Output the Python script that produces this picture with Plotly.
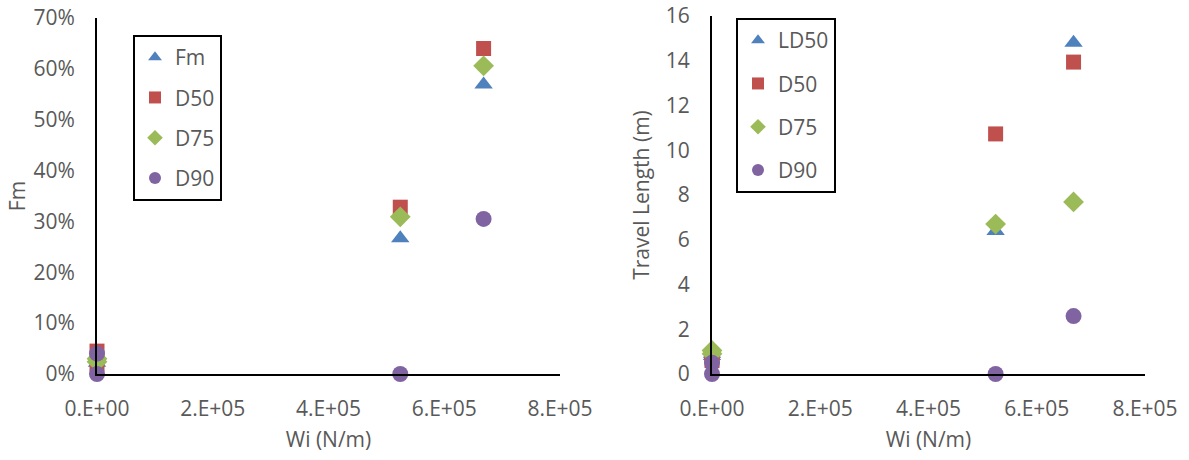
import plotly.graph_objects as go

# ---- data ----
wi = [0, 0, 5.24e5, 6.68e5]

fm_left = [0.022, 0.030, 0.267, 0.569]
d50_left = [0.045, 0.020, 0.328, 0.640]
d75_left = [0.024, 0.030, 0.309, 0.606]
d90_left = [0.000, 0.040, 0.000, 0.305]

ld50_right = [0.8, 0.9, 6.39, 14.8]
d50_right = [0.8, 0.6, 10.73, 13.94]
d75_right = [1.05, 0.9, 6.70, 7.69]
d90_right = [0.0, 0.5, 0.0, 2.59]

x_tickvals = [0, 2e5, 4e5, 6e5, 8e5]
x_ticktext = ["0.E+00", "2.E+05", "4.E+05", "6.E+05", "8.E+05"]
left_tickvals = [0, 0.1, 0.2, 0.3, 0.4, 0.5, 0.6, 0.7]
right_tickvals = [0, 2, 4, 6, 8, 10, 12, 14, 16]

left_names = ["Fm", "D50", "D75", "D90"]
right_names = ["LD50", "D50", "D75", "D90"]

colors = ["#4F81BD", "#C0504D", "#9BBB59", "#8064A2"]
symbols = ["triangle-up", "square", "diamond", "circle"]
sizes = [16, 15, 16, 16]

W, H = 1189, 460
ML, MR, MT, MB = 97, 44, 16, 86
IW = W - ML - MR
IH = H - MT - MB


def px_x(p):
    return (p - ML) / IW


def px_y(p):
    return (H - MB - p) / IH


FONT = "Open Sans"
GREY = "#595959"

fig = go.Figure()

left_series = [fm_left, d50_left, d75_left, d90_left]
right_series = [ld50_right, d50_right, d75_right, d90_right]

for i, (name, vals) in enumerate(zip(left_names, left_series)):
    fig.add_trace(go.Scatter(
        x=wi, y=vals, mode="markers", name=name,
        marker=dict(color=colors[i], symbol=symbols[i], size=sizes[i]),
        xaxis="x", yaxis="y", legend="legend", legendgroup="l%d" % i,
        cliponaxis=False,
    ))
for i, (name, vals) in enumerate(zip(right_names, right_series)):
    fig.add_trace(go.Scatter(
        x=wi, y=vals, mode="markers", name=name,
        marker=dict(color=colors[i], symbol=symbols[i], size=sizes[i]),
        xaxis="x2", yaxis="y2", legend="legend2", legendgroup="r%d" % i,
        cliponaxis=False,
    ))

tickfont = dict(family=FONT, size=21, color=GREY)
titlefont = dict(family=FONT, size=21, color=GREY)
axis_common = dict(
    showgrid=False, zeroline=False, showline=True, linecolor="black", linewidth=2,
    ticks="", tickfont=tickfont, automargin=False, ticklabeloverflow="allow",
)
xcommon = dict(range=[0, 8e5], tickvals=x_tickvals, ticktext=x_ticktext,
               ticklabelstandoff=15, **axis_common)
ycommon = dict(ticklabelstandoff=16, **axis_common)

legend_common = dict(xanchor="left", yanchor="top",
                     bordercolor="black", borderwidth=2, bgcolor="white",
                     font=dict(family=FONT, size=21, color=GREY),
                     itemsizing="constant")

fig.update_layout(
    width=W, height=H,
    margin=dict(l=ML, r=MR, t=MT, b=MB),
    paper_bgcolor="white", plot_bgcolor="white",
    font=dict(family=FONT, color=GREY),
    showlegend=True,
    xaxis=dict(domain=[0, px_x(560)], anchor="y",
               title=dict(text="Wi (N/m)", font=titlefont, standoff=11), **xcommon),
    yaxis=dict(domain=[0, px_y(18)], range=[0, 0.7], tickvals=left_tickvals,
               tickformat=".0%", anchor="x",
               title=dict(text="Fm", font=titlefont, standoff=2), **ycommon),
    xaxis2=dict(domain=[px_x(712), 1], anchor="y2",
                title=dict(text="Wi (N/m)", font=titlefont, standoff=11), **xcommon),
    yaxis2=dict(domain=[0, 1], range=[0, 16], tickvals=right_tickvals, anchor="x2",
                title=dict(text="Travel Length (m)", font=titlefont, standoff=10), **ycommon),
    legend=dict(x=px_x(133), y=px_y(35), tracegroupgap=10, **legend_common),
    legend2=dict(x=px_x(736), y=px_y(18), tracegroupgap=13, **legend_common),
)

fig.write_html("out.html", config={"displayModeBar": False},
               post_script="document.body.style.margin='0';")
